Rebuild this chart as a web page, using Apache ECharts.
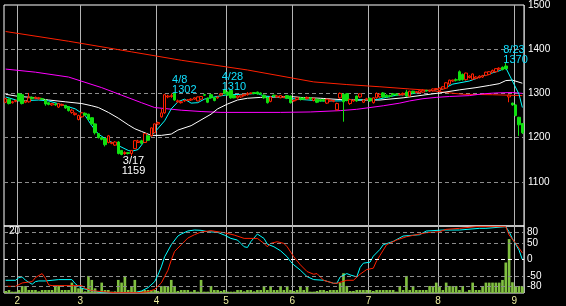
<!DOCTYPE html>
<html><head><meta charset="utf-8">
<script src="https://cdn.jsdelivr.net/npm/echarts@6/dist/echarts.min.js"></script>
<style>html,body{margin:0;padding:0;background:#000}#c{width:566px;height:306px}</style>
</head><body><div id="c"></div>
<script>
// month start bar indices and their labels
const monthStarts = [4, 23, 46, 67, 87, 110, 131, 154];
const monthLabels = ['2', '3', '4', '5', '6', '7', '8', '9'];
const rciTicks = [80, 50, 0, -50, -80];

// daily candles: [open, close, low, high]
const candles = [
[1280,1288,1278,1290],[1287,1277,1275,1289],[1279,1281,1277,1283],[1282,1284,1280,1286],[1299,1284,1282,1301],
[1297,1277,1275,1299],[1280,1283,1278,1285],[1281,1290,1279,1301],[1291,1288,1286,1293],[1289,1291,1287,1293],
[1288,1290,1286,1292],[1288,1287,1285,1290],[1285,1276,1272,1287],[1279,1275,1273,1280],[1274,1277,1272,1278],
[1276,1274,1272,1278],[1269,1277,1267,1278],[1273,1275,1271,1277],[1273,1267,1265,1274],[1270,1261,1259,1271],
[1257,1262,1254,1265],[1252,1255,1250,1257],[1241,1250,1239,1252],[1247,1256,1245,1258],[1255,1251,1249,1257],
[1253,1241,1239,1254],[1245,1231,1229,1246],[1231,1211,1207,1232],[1209,1200,1198,1210],[1200,1196,1194,1202],
[1198,1184,1180,1199],[1189,1204,1187,1206],[1187,1189,1185,1191],[1183,1190,1181,1192],[1190,1164,1162,1192],
[1171,1162,1160,1172],[1164,1166,1161,1169],[1166,1164,1162,1167],[1164,1171,1159,1172],[1175,1193,1174,1194],
[1189,1192,1188,1195],[1193,1187,1185,1195],[1189,1209,1188,1210],[1204,1194,1192,1206],[1204,1222,1202,1223],
[1211,1231,1210,1232],[1231,1234,1229,1236],[1247,1256,1245,1265],[1256,1297,1254,1299],[1292,1294,1289,1297],
[1293,1295,1290,1300],[1300,1285,1283,1302],[1281,1283,1279,1286],[1279,1281,1277,1283],[1283,1284,1281,1286],
[1285,1285,1283,1287],[1285,1287,1283,1289],[1287,1290,1286,1291],[1283,1292,1282,1293],[1287,1293,1285,1294],
[1297,1296,1294,1299],[1289,1280,1278,1291],[1297,1290,1288,1299],[1290,1284,1282,1292],[1290,1292,1288,1293],
[1296,1299,1294,1301],[1308,1300,1298,1310],[1303,1296,1294,1305],[1307,1290,1288,1309],[1295,1290,1289,1297],
[1290,1294,1288,1296],[1292,1296,1290,1297],[1295,1298,1293,1299],[1297,1300,1295,1303],[1300,1301,1298,1302],
[1302,1300,1298,1303],[1303,1299,1297,1304],[1301,1299,1297,1302],[1296,1290,1288,1298],[1290,1279,1277,1292],
[1282,1292,1280,1294],[1296,1294,1292,1297],[1292,1294,1290,1296],[1290,1295,1289,1296],[1291,1292,1290,1294],
[1295,1289,1287,1296],[1294,1279,1277,1295],[1283,1284,1281,1286],[1286,1290,1284,1291],[1290,1286,1284,1291],
[1290,1286,1285,1292],[1288,1291,1286,1293],[1290,1287,1285,1291],[1284,1289,1282,1290],[1287,1280,1278,1288],
[1286,1283,1281,1287],[1286,1283,1281,1288],[1278,1287,1276,1288],[1283,1285,1281,1286],[1282,1284,1280,1285],
[1263,1277,1261,1279],[1290,1300,1288,1302],[1298,1281,1236,1300],[1299,1284,1282,1301],[1277,1286,1274,1288],
[1283,1285,1281,1287],[1294,1283,1281,1295],[1292,1299,1290,1300],[1280,1285,1278,1287],[1286,1288,1284,1290],
[1289,1283,1281,1291],[1279,1290,1277,1291],[1290,1300,1288,1302],[1292,1298,1290,1300],[1301,1292,1290,1303],
[1296,1292,1290,1298],[1295,1293,1291,1297],[1299,1297,1295,1301],[1299,1296,1294,1300],[1297,1298,1295,1300],
[1297,1300,1295,1302],[1303,1294,1292,1308],[1294,1305,1292,1306],[1305,1301,1299,1306],[1302,1304,1300,1305],
[1302,1306,1300,1307],[1303,1307,1301,1309],[1307,1306,1304,1308],[1305,1307,1303,1308],[1306,1310,1304,1311],
[1309,1311,1307,1312],[1306,1312,1304,1313],[1310,1315,1308,1316],[1312,1324,1310,1325],[1321,1330,1319,1331],
[1328,1330,1326,1331],[1331,1330,1327,1334],[1349,1330,1328,1352],[1343,1331,1329,1345],[1331,1346,1329,1347],
[1336,1339,1334,1341],[1332,1344,1330,1345],[1334,1337,1332,1339],[1336,1339,1334,1341],[1337,1340,1335,1342],
[1341,1348,1339,1349],[1343,1349,1341,1350],[1348,1352,1346,1354],[1349,1356,1347,1357],[1355,1357,1353,1359],
[1359,1354,1352,1361],[1362,1356,1354,1370],[1292,1296,1280,1298],[1278,1274,1272,1279],[1274,1250,1248,1275],
[1246,1229,1204,1247],[1232,1211,1208,1233]
];

const volume = [
0.6,0.9,0.4,0.4,0.9,2.1,2.1,0.9,0.9,0.9,
0.5,0.9,0.9,0.9,0.9,2.1,2.1,0.9,0.9,0.9,
3.1,2.1,1.4,1.4,0.5,5.1,3.9,1.4,0.5,3.1,
0.9,0.9,0.4,0.5,3.9,3.1,5.1,0.9,1.9,3.9,
0.4,0.6,0.9,0.9,0.9,0.9,0.6,2.1,2.1,1.9,
3.9,2.1,0.6,0.9,0.9,0.9,0.4,0.9,0.4,3.9,
0.4,0.4,2.1,0.9,0.9,0.6,0.9,0.4,0.4,0.4,
0.9,0.9,0.5,0.9,0.9,0.5,0.9,0.9,2.1,0.9,
2.1,0.9,0.9,2.1,0.9,2.1,0.9,0.6,0.9,2.1,
0.9,2.1,0.4,0.4,0.6,0.9,0.9,0.6,0.9,0.9,
0.9,3.1,5.9,2.1,0.6,0.6,0.9,0.9,0.9,0.9,
0.9,0.6,0.9,0.9,0.9,0.9,0.9,0.9,0.4,2.1,
0.9,5.1,0.9,2.1,0.9,0.9,0.9,0.9,2.1,2.1,
3.1,2.1,0.9,3.1,2.1,2.1,2.1,0.9,2.1,0.4,
0.9,3.1,0.9,0.9,2.1,3.1,3.1,3.1,3.1,3.1,
3.9,9.1,16.1,3.2,2.1,2.1,2.1
];

// moving averages: [barIndex, price]
const maShort = [[0,1292],[4,1283],[10,1285],[13,1283],[18,1272],[21,1265],[24,1250],[26,1227],[28,1208],[31,1193],[34,1182],[37,1171],[38,1169],[40,1173],[42,1193],[45,1212],[48,1238],[50,1265],[52,1281],[54,1287],[56,1278],[58,1279],[60,1287],[63,1292],[67,1297],[72,1298],[76,1300],[78,1294],[82,1292],[88,1287],[95,1283],[101,1283],[104,1285],[112,1286],[118,1296],[122,1298],[127,1306],[132,1310],[135,1321],[140,1328],[145,1342],[149,1351],[151,1358],[153,1328],[155,1298],[156,1268]];
const maMid = [[0,1298],[4,1293],[8,1291],[13,1285],[18,1281],[23,1277],[26,1272],[28,1268],[31,1257],[34,1244],[37,1229],[39,1220],[41,1214],[44,1205],[47,1205],[50,1208],[52,1217],[56,1227],[62,1253],[64,1265],[67,1276],[70,1285],[73,1289],[77,1291],[82,1292],[86,1293],[89,1291],[95,1289],[103,1285],[113,1285],[120,1290],[126,1296],[131,1301],[137,1308],[142,1313],[146,1318],[149,1322],[151,1329],[153,1330],[156,1323]];
const maLong = [[0,1355],[9,1348],[19,1337],[29,1313],[35,1296],[41,1279],[45,1268],[53,1262],[59,1259],[65,1257],[83,1257],[92,1258],[101,1261],[106,1264],[110,1268],[114,1272],[119,1278],[122,1283],[126,1288],[130,1291],[134,1293],[140,1295],[144,1299],[148,1301],[153,1302],[156,1300]];
const maLonger = [[0,1440],[19,1418],[38,1394],[53,1375],[73,1353],[93,1326],[103,1320],[113,1315],[122,1310],[128,1307],[133,1302],[138,1298],[147,1297],[156,1295]];

// oscillator lines (-100..100): [barIndex, value]
const rciShort = [[0,-62],[3,-62],[4,-54],[5,-52],[6,-62],[8,-74],[9,-66],[10,-64],[12,-64],[14,-62],[16,-60],[20,-60],[21,-72],[22,-80],[23,-86],[26,-93],[29,-99],[39,-99],[41,-94],[43,-84],[45,-66],[46,-46],[47,-22],[48,8],[50,44],[52,70],[53,76],[55,85],[57,88],[59,87],[61,83],[64,81],[66,73],[68,63],[70,58],[71,48],[72,38],[73,36],[74,53],[76,76],[78,63],[79,46],[81,38],[83,26],[85,8],[86,-6],[87,-16],[89,-32],[91,-51],[93,-60],[96,-62],[99,-71],[100,-71],[101,-52],[103,-42],[104,-46],[106,-52],[107,-24],[108,-11],[110,-8],[111,10],[113,30],[114,44],[117,54],[120,70],[125,74],[127,85],[132,88],[137,88],[143,93],[145,93],[151,98],[152,83],[153,62],[155,28],[156,0]];
const rciLong = [[0,-80],[3,-80],[5,-70],[8,-66],[9,-54],[11,-42],[12,-56],[13,-76],[14,-78],[23,-78],[24,-86],[26,-93],[29,-96],[33,-99],[40,-99],[43,-96],[45,-89],[47,-70],[49,-32],[50,-2],[51,24],[53,44],[55,64],[57,74],[59,82],[62,86],[66,80],[69,73],[72,63],[76,63],[78,48],[79,38],[80,48],[82,53],[84,48],[85,38],[87,8],[89,-16],[91,-36],[93,-44],[94,-42],[96,-62],[99,-71],[100,-71],[103,-62],[105,-62],[107,-44],[109,-30],[111,-26],[112,-4],[113,12],[115,44],[118,58],[121,68],[125,76],[127,80],[131,83],[133,90],[137,93],[142,98],[151,98],[152,73],[154,48],[156,20]];

// annotated extremes
const notes = [
  {i: 38, v: 1159, date: '3/17', kind: 'low'},
  {i: 51, v: 1302, date: '4/8', kind: 'high'},
  {i: 66, v: 1310, date: '4/28', kind: 'high'},
  {i: 151, v: 1370, date: '8/23', kind: 'high'}
];

const categories = candles.map((_, i) => String(i));
const FONT = 'Liberation Sans';
const isMonth = (idx) => monthStarts.indexOf(idx) >= 0;

const markData = notes.map(n => ({
  coord: [n.i, n.v],
  label: n.kind === 'low'
    ? {show: true, formatter: n.date + '\n' + n.v, color: '#ffffff', position: 'bottom', distance: 0, align: 'center', offset: [2, 0]}
    : {show: true, formatter: n.date + '\n' + n.v, color: '#10e0ff', position: [0, 0], align: 'left', verticalAlign: 'bottom', offset: [-2, 3]}
}));

const chart = echarts.init(document.getElementById('c'), null, {renderer: 'canvas'});
chart.setOption({
  backgroundColor: '#000',
  animation: false,
  textStyle: {fontFamily: FONT},
  grid: [
    {left: 4, top: 3, width: 520, height: 223, show: true, borderColor: '#ffffff', borderWidth: 1, backgroundColor: 'transparent'},
    {left: 4, top: 226, width: 520, height: 67, show: true, borderColor: '#ffffff', borderWidth: 1, backgroundColor: 'transparent'}
  ],
  xAxis: [
    {type: 'category', gridIndex: 0, data: categories, boundaryGap: true,
     axisLine: {show: false}, axisTick: {show: false}, axisLabel: {show: false},
     splitLine: {show: true, interval: (idx) => isMonth(idx), lineStyle: {color: '#b4b4b4', width: 1}}},
    {type: 'category', gridIndex: 1, data: categories, boundaryGap: true,
     axisLine: {show: false}, axisTick: {show: false},
     axisLabel: {show: true, interval: (idx) => isMonth(idx), formatter: (val, idx) => monthLabels[monthStarts.indexOf(idx)] || '',
       color: '#eeeea0', fontSize: 10, margin: 3, padding: [0, 3, 0, 0], fontFamily: FONT},
     splitLine: {show: true, interval: (idx) => isMonth(idx), lineStyle: {color: '#b4b4b4', width: 1}}}
  ],
  yAxis: [
    {type: 'value', gridIndex: 0, position: 'right', min: 1000, max: 1500, interval: 100,
     axisLine: {show: false}, axisTick: {show: false},
     axisLabel: {color: '#ffffff', fontSize: 10, margin: 4, fontFamily: FONT, showMinLabel: false, padding: [3, 0, 0, 0],
       formatter: (v) => String(v)},
     splitLine: {show: true, showMinLine: false, showMaxLine: false, lineStyle: {color: '#8c8c8c', type: [4, 3], width: 1}}},
    {type: 'value', gridIndex: 1, min: -100, max: 100, show: false, splitLine: {show: false}},
    {type: 'value', gridIndex: 1, position: 'left', min: 0, max: 20, interval: 20,
     axisLine: {show: false}, axisTick: {show: false}, splitLine: {show: false},
     axisLabel: {inside: true, showMinLabel: false, color: '#ffffff', fontSize: 10, margin: 5, verticalAlign: 'top', fontFamily: FONT,
       formatter: (v) => String(v)}}
  ],
  series: [
    {type: 'bar', name: 'volume', xAxisIndex: 1, yAxisIndex: 2, data: volume, barWidth: '80%', itemStyle: {color: '#80c040'}, z: 1},
    {type: 'line', name: 'rciShort', xAxisIndex: 1, yAxisIndex: 1, data: rciShort, showSymbol: false, lineStyle: {color: '#00ffff', width: 1}, z: 3,
     markLine: {silent: true, symbol: 'none', animation: false,
       label: {show: true, position: 'end', formatter: '{c}', color: '#ffffff', fontSize: 10, distance: 3, fontFamily: FONT},
       data: rciTicks.map(v => ({yAxis: v, lineStyle: {color: v === 0 ? '#ffffff' : '#8c8c8c', type: [4, 3], width: 1}}))}},
    {type: 'line', name: 'rciLong', xAxisIndex: 1, yAxisIndex: 1, data: rciLong, showSymbol: false, lineStyle: {color: '#ff2000', width: 1}, z: 4},
    {type: 'line', name: 'maLonger', xAxisIndex: 0, yAxisIndex: 0, data: maLonger, showSymbol: false, lineStyle: {color: '#ff2000', width: 1}, z: 2},
    {type: 'line', name: 'maLong', xAxisIndex: 0, yAxisIndex: 0, data: maLong, showSymbol: false, lineStyle: {color: '#ff00ff', width: 1}, z: 2},
    {type: 'line', name: 'maMid', xAxisIndex: 0, yAxisIndex: 0, data: maMid, showSymbol: false, lineStyle: {color: '#ffffff', width: 1}, z: 2},
    {type: 'line', name: 'maShort', xAxisIndex: 0, yAxisIndex: 0, data: maShort, showSymbol: false, lineStyle: {color: '#00ffff', width: 1}, z: 2},
    {type: 'candlestick', name: 'price', xAxisIndex: 0, yAxisIndex: 0, data: candles, barWidth: 3, z: 3,
     itemStyle: {color: '#000000', color0: '#10e010', borderColor: '#ff2000', borderColor0: '#10e010', borderWidth: 1},
     markPoint: {symbol: 'rect', symbolSize: 1, itemStyle: {color: 'rgba(0,0,0,0)'}, animation: false, silent: true,
       label: {fontSize: 11, lineHeight: 10, fontFamily: FONT},
       data: markData}}
  ]
});
</script>
</body></html>
